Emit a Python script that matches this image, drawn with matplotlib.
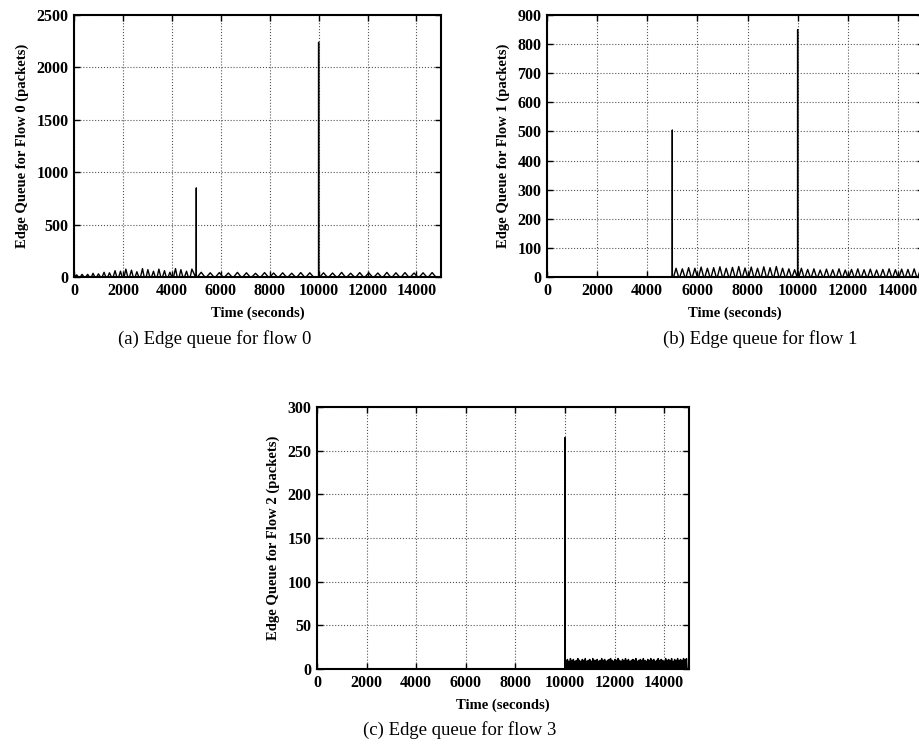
import matplotlib
matplotlib.use("Agg")
from matplotlib import pyplot as plt

plt.rcParams['font.family'] = ['Liberation Serif', 'DejaVu Serif']

# flow 0: bumps (peak time, peak height), then two big spikes
f0_peak_t = [110, 330, 560, 780, 1000, 1230, 1450, 1680, 1900, 2120, 2350, 2570, 2800,
             3020, 3250, 3470, 3700, 3920, 4150, 4370, 4600, 4820,
             5200, 5570, 5940, 6310, 6680, 7050, 7420, 7790, 8160, 8530, 8900, 9270, 9640,
             10200, 10570, 10940, 11310, 11680, 12050, 12420, 12790, 13160, 13530, 13900,
             14270, 14640]
f0_peak_v = [20, 25, 25, 35, 30, 45, 40, 60, 55, 75, 65, 50, 80, 70, 55, 75, 60, 45, 80, 70,
             55, 75,
             45, 40, 42, 38, 44, 40, 35, 42, 38, 40, 36, 42, 40,
             40, 38, 44, 36, 42, 40, 38, 44, 40, 42, 38, 40, 42]
f0_spike_t = [5000, 10000]
f0_spike_v = [850, 2240]

# flow 1
f1_peak_t = [5150, 5400, 5650, 5900, 6150, 6400, 6650, 6900, 7150, 7400, 7650, 7900, 8150,
             8400, 8650, 8900, 9150, 9400, 9650, 9880,
             10150, 10400, 10650, 10900, 11150, 11400, 11650, 11900, 12150, 12400, 12650,
             12900, 13150, 13400, 13650, 13900, 14150, 14400, 14650, 14900]
f1_peak_v = [30, 28, 32, 30, 34, 30, 32, 35, 30, 33, 36, 31, 34, 30, 35, 32, 36, 30, 28, 25,
             30, 26, 28, 24, 27, 25, 28, 24, 26, 28, 25, 27, 24, 26, 28, 25, 27, 26, 28, 27]
f1_spike_t = [5000, 10000]
f1_spike_v = [505, 850]

# flow 2
f2_peak_t = [10040, 10100, 10160, 10220, 10280, 10340, 10400, 10460, 10520, 10580, 10640,
             10700, 10760, 10820, 10880, 10940, 11000, 11060, 11120, 11180, 11240, 11300,
             11360, 11420, 11480, 11540, 11600, 11660, 11720, 11780, 11840, 11900, 11960,
             12020, 12080, 12140, 12200, 12260, 12320, 12380, 12440, 12500, 12560, 12620,
             12680, 12740, 12800, 12860, 12920, 12980, 13040, 13100, 13160, 13220, 13280,
             13340, 13400, 13460, 13520, 13580, 13640, 13700, 13760, 13820, 13880, 13940,
             14000, 14060, 14120, 14180, 14240, 14300, 14360, 14420, 14480, 14540, 14600,
             14660, 14720, 14780, 14840, 14900]
f2_peak_v = [10, 11, 9, 12, 10, 11, 9, 10, 12, 10, 9, 11, 10, 12, 9, 10, 11, 9, 12, 10,
             10, 11, 9, 10, 12, 10, 11, 9, 10, 11, 12, 10, 9, 11, 10, 12, 10, 9, 11, 10,
             12, 10, 11, 9, 10, 11, 10, 12, 9, 10, 11, 10, 12, 10, 9, 11, 10, 12, 10, 11,
             9, 10, 12, 10, 11, 10, 9, 12, 10, 11, 10, 12, 9, 11, 10, 12, 10, 11, 10, 12,
             11, 12]
f2_spike_t = [10000]
f2_spike_v = [265]

flows = [
    (f0_peak_t, f0_peak_v, f0_spike_t, f0_spike_v, 150),
    (f1_peak_t, f1_peak_v, f1_spike_t, f1_spike_v, 100),
    (f2_peak_t, f2_peak_v, f2_spike_t, f2_spike_v, 25),
]
ylims = [(0, 2500, 500), (0, 900, 100), (0, 300, 50)]
ylabels = ['Edge Queue for Flow 0 (packets)', 'Edge Queue for Flow 1 (packets)',
           'Edge Queue for Flow 2 (packets)']
captions = ['(a) Edge queue for flow 0', '(b) Edge queue for flow 1', '(c) Edge queue for flow 3']

fig = plt.figure(figsize=(9.19, 7.46), dpi=100)
positions = [[0.0805, 0.6287, 0.3993, 0.3512],
             [0.5952, 0.6287, 0.4091, 0.3512],
             [0.3449, 0.1032, 0.4048, 0.3512]]
caption_xy = [(0.234, 0.545), (0.827, 0.545), (0.5, 0.022)]

for i, (pt, pv, st, sv, w) in enumerate(flows):
    ax = fig.add_axes(positions[i])
    # build the line: zero baseline, bumps, spikes
    pts = [(0, 0), (15000, 0)]
    for t, v in zip(pt, pv):
        pts += [(t - w, 0), (t, v), (t + w, 0)]
    for t, v in zip(st, sv):
        pts += [(t - 1, 0), (t, v), (t + 1, 0)]
    pts.sort()
    ax.plot([p[0] for p in pts], [p[1] for p in pts], color='black', lw=1.0)

    ax.set_xlim(0, 15000)
    ax.set_ylim(ylims[i][0], ylims[i][1])
    ax.set_xticks(range(0, 15000, 2000))
    ax.set_yticks(range(ylims[i][0], ylims[i][1] + 1, ylims[i][2]))
    ax.grid(True, linestyle=':', color='#555555', lw=0.8)
    ax.tick_params(direction='in', top=True, right=True, length=4, width=1.0,
                   labelsize=11.5, pad=4)
    for lab in ax.get_xticklabels() + ax.get_yticklabels():
        lab.set_fontweight('bold')
    for s in ax.spines.values():
        s.set_linewidth(1.5)
    ax.set_xlabel('Time (seconds)', fontsize=10.5, fontweight='bold', labelpad=6)
    ax.set_ylabel(ylabels[i], fontsize=10.5, fontweight='bold', labelpad=5)
    fig.text(caption_xy[i][0], caption_xy[i][1], captions[i], fontsize=13.5,
             ha='center', va='center')

fig.savefig('out.png', dpi=100)
